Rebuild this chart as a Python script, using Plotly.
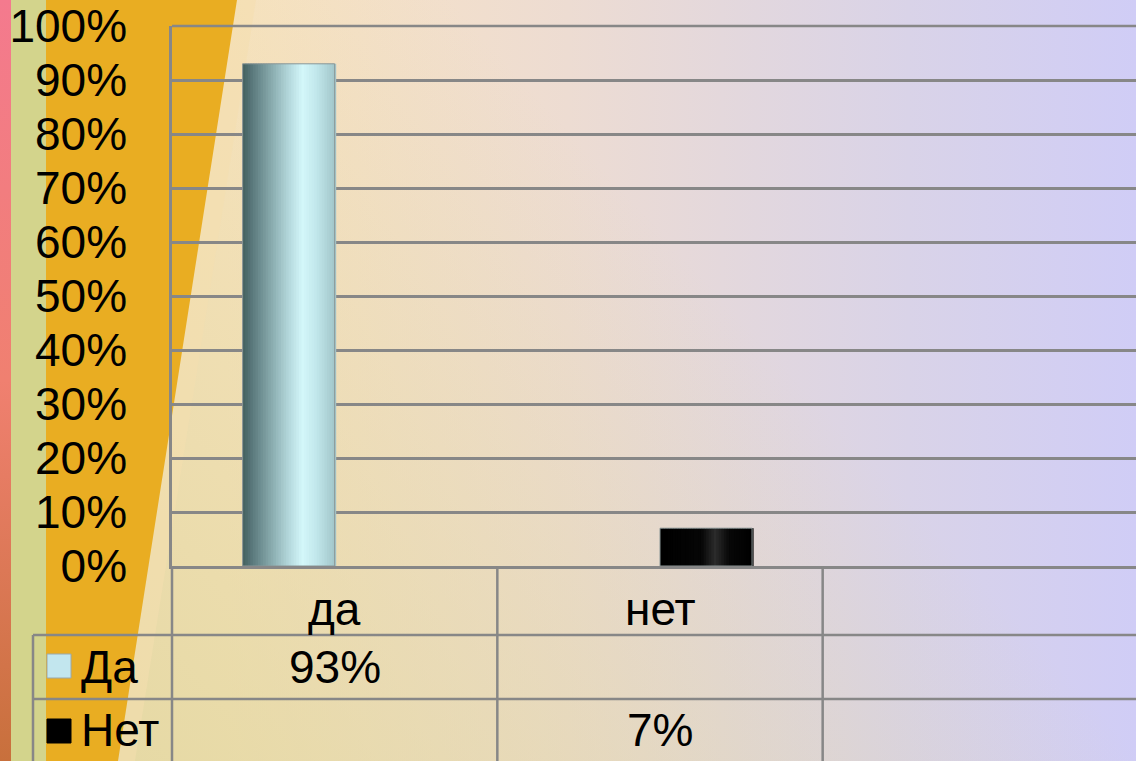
import base64
import plotly.graph_objects as go

# ---------------- data ----------------
categories = ["да", "нет"]
series_names = ["Да", "Нет"]
values_da = [0.93, None]
values_net = [None, 0.07]
y_ticks = [0, 0.1, 0.2, 0.3, 0.4, 0.5, 0.6, 0.7, 0.8, 0.9, 1.0]

W, H = 1136, 761
FONT = "Liberation Sans, Arial, sans-serif"
GRID = "#878787"


def px(x):
    return x / W


def py(y):
    return 1 - y / H


def hex2rgb(h):
    h = h.lstrip("#")
    return tuple(int(h[i:i + 2], 16) for i in (0, 2, 4))


def interp(stops, t):
    for (t0, c0), (t1, c1) in zip(stops[:-1], stops[1:]):
        if t0 <= t <= t1:
            a = (t - t0) / (t1 - t0) if t1 > t0 else 0
            r0, g0, b0 = hex2rgb(c0)
            r1, g1, b1 = hex2rgb(c1)
            return "rgb(%d,%d,%d)" % (r0 + (r1 - r0) * a, g0 + (g1 - g0) * a, b0 + (b1 - b0) * a)
    return stops[-1][1]


# ---------------- background (svg) ----------------
svg = f"""<svg xmlns='http://www.w3.org/2000/svg' width='{W}' height='{H}' viewBox='0 0 {W} {H}' preserveAspectRatio='none'>
<defs>
<linearGradient id='h' x1='0' y1='0' x2='1' y2='0'>
<stop offset='0.2' stop-color='#fae4c2'/>
<stop offset='0.5' stop-color='#eddcd2'/>
<stop offset='0.8' stop-color='#d9d3e8'/>
<stop offset='1' stop-color='#d0cdf6'/>
</linearGradient>
<linearGradient id='v' gradientUnits='userSpaceOnUse' x1='0' y1='761' x2='625' y2='190'>
<stop offset='0' stop-color='#dcd496' stop-opacity='0.75'/>
<stop offset='1' stop-color='#dcd496' stop-opacity='0'/>
</linearGradient>
<linearGradient id='p' x1='0' y1='0' x2='0' y2='1'>
<stop offset='0' stop-color='#f47a8e'/>
<stop offset='0.5' stop-color='#f08070'/>
<stop offset='1' stop-color='#c8703c'/>
</linearGradient>
</defs>
<rect width='{W}' height='{H}' fill='url(#h)'/>
<rect width='{W}' height='{H}' fill='url(#v)'/>
<polygon points='237,0 256,0 135,761 118,761' fill='#f4dfae' fill-opacity='0.55'/>
<polygon points='0,0 237,0 118,761 0,761' fill='#e9ad22'/>
<rect x='10' width='36' height='{H}' fill='#d3d48c'/>
<rect width='11' height='{H}' fill='url(#p)'/>
</svg>"""
bg_uri = "data:image/svg+xml;base64," + base64.b64encode(svg.encode()).decode()

fig = go.Figure()

# ---------------- bars (shaded with stripes) ----------------
BW = 0.283
N = 36
da_stops = [(0, "#43605f"), (0.1, "#5a787b"), (0.3, "#86a8ab"), (0.5, "#b4d8dc"),
            (0.65, "#d4f8fa"), (0.8, "#c2e8ec"), (1, "#a2c6ca")]
net_stops = [(0, "#000000"), (0.45, "#060606"), (0.6, "#2c2c2c"), (0.75, "#080808"), (1, "#000000")]

for vals, stops, off0 in [(values_da, da_stops, -BW), (values_net, net_stops, 0.0)]:
    for i in range(N):
        t = (i + 0.5) / N
        fig.add_trace(go.Bar(
            x=categories, y=vals, width=BW / N * 1.6, offset=off0 + i * BW / N,
            marker=dict(color=interp(stops, t), line=dict(width=0)),
            showlegend=False, hoverinfo="skip"))
    fig.add_trace(go.Bar(
        x=categories, y=vals, width=BW, offset=off0,
        marker=dict(color="rgba(0,0,0,0)", line=dict(width=1, color="#8a9696")),
        showlegend=False, hoverinfo="skip"))

# ---------------- layout ----------------
X0, YB, YT = 172, 566, 26
col_px = 325.33
xr_max = -0.5 + (W - X0) / col_px

shapes = []
line = dict(color=GRID, width=2.5)
# data table lines
shapes.append(dict(type="line", xref="paper", yref="paper", x0=px(X0), x1=px(X0), y0=py(H), y1=py(YB), line=line))
for xb in [0.5, 1.5]:
    shapes.append(dict(type="line", xref="x", yref="paper", x0=xb, x1=xb, y0=py(H), y1=py(YB), line=line))
for yy in [635, 699]:
    shapes.append(dict(type="line", xref="paper", yref="paper", x0=px(33), x1=1, y0=py(yy), y1=py(yy), line=line))
shapes.append(dict(type="line", xref="paper", yref="paper", x0=px(33), x1=px(33), y0=py(H), y1=py(635), line=line))
# top gridline (100%)
shapes.append(dict(type="line", xref="paper", yref="paper", x0=px(X0), x1=1, y0=py(YT), y1=py(YT), line=line))
# legend keys
shapes.append(dict(type="rect", xref="paper", yref="paper", x0=px(47), x1=px(71), y0=py(678), y1=py(654),
                   fillcolor="#c2e6ee", line=dict(color="#9aa8aa", width=1)))
shapes.append(dict(type="rect", xref="paper", yref="paper", x0=px(47), x1=px(71), y0=py(743), y1=py(719),
                   fillcolor="#000000", line=dict(color="#000000", width=1)))

annotations = []
TF = dict(family=FONT, size=46, color="black")
for i, c in enumerate(categories):
    annotations.append(dict(x=i, y=py(609), xref="x", yref="paper", text=c, showarrow=False,
                            font=TF, xanchor="center", yanchor="middle"))
row_y = [667, 730]
for r, (name, vals) in enumerate(zip(series_names, [values_da, values_net])):
    annotations.append(dict(x=px(79), y=py(row_y[r]), xref="paper", yref="paper", text=name, showarrow=False,
                            font=TF, xanchor="left", yanchor="middle"))
    for i, v in enumerate(vals):
        if v is not None:
            annotations.append(dict(x=i, y=py(row_y[r]), xref="x", yref="paper", text=f"{v:.0%}",
                                    showarrow=False, font=TF, xanchor="center", yanchor="middle"))

fig.update_layout(
    width=W, height=H, margin=dict(l=0, r=0, t=0, b=0, autoexpand=False),
    paper_bgcolor="white", plot_bgcolor="rgba(0,0,0,0)",
    barmode="overlay", showlegend=False,
    xaxis=dict(domain=[px(X0), 1], range=[-0.5, xr_max], showticklabels=False, showgrid=False,
               showline=True, linecolor=GRID, linewidth=2.5, zeroline=False, ticks="", automargin=False),
    yaxis=dict(domain=[py(YB), py(YT)], range=[0, 1.0], tickvals=y_ticks, tickformat=".0%",
               tickfont=dict(family=FONT, size=46, color="black"), ticks="", ticklabelstandoff=33,
               showgrid=True, gridcolor=GRID, gridwidth=2.5, zeroline=False, automargin=False,
               showline=True, linecolor=GRID, linewidth=2.5),
    images=[dict(source=bg_uri, xref="paper", yref="paper", x=0, y=1, sizex=1, sizey=1,
                 xanchor="left", yanchor="top", sizing="stretch", layer="below")],
    shapes=shapes, annotations=annotations,
)

fig.write_html("out.html", config={"displayModeBar": False},
               post_script="document.body.style.margin='0';document.body.style.overflow='hidden';")
